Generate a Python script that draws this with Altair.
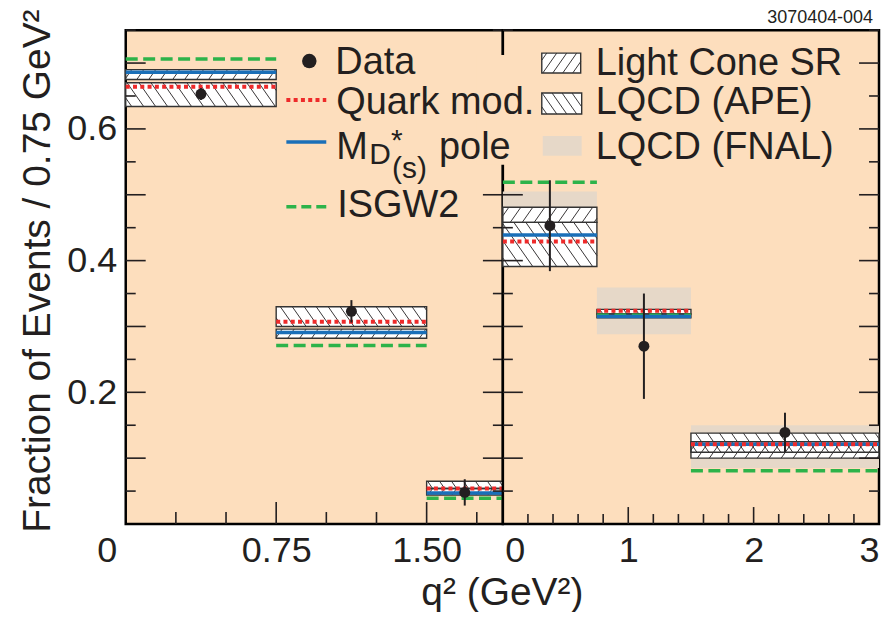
import altair as alt
import pandas as pd

# ---------------- data ----------------
# Left panel: D -> K e nu
k_bin_lo = [0.0, 0.75, 1.50]
k_bin_hi = [0.75, 1.50, 1.88]
k_center = [0.375, 1.125, 1.69]
k_data = [0.653, 0.323, 0.048]
k_err = [0.009, 0.017, 0.020]
k_quark = [0.664, 0.307, 0.054]
k_pole = [0.686, 0.291, 0.047]
k_isgw2 = [0.706, 0.271, 0.039]
k_lc_lo = [0.675, 0.282, 0.044]
k_lc_hi = [0.690, 0.296, 0.054]
k_ape_lo = [0.634, 0.300, 0.054]
k_ape_hi = [0.670, 0.330, 0.065]

# Right panel: D -> pi e nu
pi_bin_lo = [0.0, 0.75, 1.50]
pi_bin_hi = [0.75, 1.50, 3.00]
pi_center = [0.375, 1.125, 2.25]
pi_data = [0.453, 0.270, 0.139]
pi_err = [0.069, 0.080, 0.030]
pi_quark = [0.429, 0.324, 0.121]
pi_pole = [0.439, 0.315, 0.121]
pi_isgw2 = [0.519, 0.317, 0.081]
pi_lc_lo = [0.458, 0.313, 0.100]
pi_lc_hi = [0.481, 0.319, 0.125]
pi_ape_lo = [0.391, 0.319, 0.109]
pi_ape_hi = [0.458, 0.326, 0.138]
pi_fnal_lo = [0.405, 0.288, 0.085]
pi_fnal_hi = [0.505, 0.359, 0.150]

# axis ticks / labels
y_labels = [0.2, 0.4, 0.6]
y_major = [0.1, 0.2, 0.3, 0.4, 0.5, 0.6, 0.7]
y_minor = [0.05, 0.15, 0.25, 0.35, 0.45, 0.55, 0.65, 0.75]
k_x_labels = [0.0, 0.75, 1.50]
k_x_major = [0.75, 1.50]
k_x_minor = [0.25, 0.50, 1.00, 1.25, 1.75]
pi_x_labels = [0, 1, 2, 3]
pi_x_major = [1.0, 2.0]
pi_x_minor = [0.2, 0.4, 0.6, 0.8, 1.2, 1.4, 1.6, 1.8, 2.2, 2.4, 2.6, 2.8]

legend_col1 = ["Data", "Quark mod.", "pole", "ISGW2"]
legend_col2 = ["Light Cone SR", "LQCD (APE)", "LQCD (FNAL)"]
y_title = "Fraction of Events / 0.75 GeV²"
x_title = "q² (GeV²)"
fig_id = "3070404-004"

# ---------------- styles ----------------
PEACH = "#FDDEBD"
FNAL_GRAY = "#E6D8C8"
INK = "#231F20"
RED = "#EE2A2A"
BLUE = "#1A6FB8"
GREEN = "#2DB34A"
FONT = "Liberation Sans"
H = 495
W_L = 378
W_R = 377
Y_MAX = 0.75
KY = H / Y_MAX
LEG_FS = 38
TICK_FS = 36

one = pd.DataFrame({"k": [0]})


def hatch_segments(W, Hh, direction, spacing, slope=0.7):
    segs = []
    if W <= 0 or Hh <= 0:
        return segs
    sH = slope * Hh
    if direction == "back":  # "\\\"
        c = -sH + spacing / 2
        while c < W:
            tmin = max(0.0, -c / sH)
            tmax = min(1.0, (W - c) / sH)
            if tmax > tmin:
                segs.append((c + sH * tmin, tmin, c + sH * tmax, tmax))
            c += spacing
    else:  # "///"
        c = spacing / 2
        while c < W + sH:
            tmin = max(0.0, (c - W) / sH)
            tmax = min(1.0, c / sH)
            if tmax > tmin:
                segs.append((c - sH * tmin, tmin, c - sH * tmax, tmax))
            c += spacing
    return segs


def box_hatch(lo, hi, ylo, yhi, kx, direction):
    rows = []
    for x0, x1, y0, y1 in zip(lo, hi, ylo, yhi):
        for xa, ta, xb, tb in hatch_segments((x1 - x0) * kx, (y1 - y0) * KY, direction, 12):
            rows.append({"xa": x0 + xa / kx, "ya": y1 - ta * (y1 - y0),
                         "xb": x0 + xb / kx, "yb": y1 - tb * (y1 - y0)})
    return pd.DataFrame(rows)


def panel(lo, hi, center, data, err, quark, pole, isgw2, lc_lo, lc_hi,
          ape_lo, ape_hi, xmax, width, xaxis, yaxis, x_major, x_minor,
          major_len, minor_len, fnal=None):
    kx = width / xmax
    xs = alt.Scale(domain=[0, xmax], nice=False, zero=False)
    ys = alt.Scale(domain=[0, Y_MAX], nice=False, zero=True)

    def X(f):
        return alt.X(f, type="quantitative", scale=xs, axis=xaxis)

    def Y(f):
        return alt.Y(f, type="quantitative", scale=ys, axis=yaxis)

    df = pd.DataFrame({
        "lo": lo, "hi": hi, "c": center, "d": data,
        "dlo": [d - e for d, e in zip(data, err)],
        "dhi": [d + e for d, e in zip(data, err)],
        "quark": quark, "pole": pole, "isgw2": isgw2,
        "lc_lo": lc_lo, "lc_hi": lc_hi, "ape_lo": ape_lo, "ape_hi": ape_hi,
    })
    layers = []
    if fnal is not None:
        df["f_lo"], df["f_hi"] = fnal
    base = alt.Chart(df)
    if fnal is not None:
        layers.append(base.mark_rect(color=FNAL_GRAY).encode(
            x=X("lo"), x2="hi", y=Y("f_lo"), y2="f_hi"))
    # white fills
    for a, b in (("lc_lo", "lc_hi"), ("ape_lo", "ape_hi")):
        layers.append(base.mark_rect(color="white").encode(
            x=X("lo"), x2="hi", y=Y(a), y2=b))
    # hatches
    for hd in (box_hatch(lo, hi, lc_lo, lc_hi, kx, "fwd"),
               box_hatch(lo, hi, ape_lo, ape_hi, kx, "back")):
        layers.append(alt.Chart(hd).mark_rule(color=INK, strokeWidth=0.9).encode(
            x=X("xa"), x2="xb", y=Y("ya"), y2="yb"))
    # outlines
    for a, b in (("lc_lo", "lc_hi"), ("ape_lo", "ape_hi")):
        layers.append(base.mark_rect(fillOpacity=0, stroke="#333333", strokeWidth=1.4).encode(
            x=X("lo"), x2="hi", y=Y(a), y2=b))
    # model curves
    layers.append(base.mark_rule(color=GREEN, strokeWidth=3.5, strokeDash=[12, 5.5]).encode(
        x=X("lo"), x2="hi", y=Y("isgw2")))
    layers.append(base.mark_rule(color=BLUE, strokeWidth=3.5).encode(
        x=X("lo"), x2="hi", y=Y("pole")))
    layers.append(base.mark_rule(color=RED, strokeWidth=4, strokeDash=[4, 3.3]).encode(
        x=X("lo"), x2="hi", y=Y("quark")))
    # data
    layers.append(base.mark_rule(color=INK, strokeWidth=2).encode(
        x=X("c"), y=Y("dlo"), y2="dhi"))
    layers.append(base.mark_circle(color=INK, opacity=1, size=120).encode(
        x=X("c"), y=Y("d")))
    # inward ticks
    for vals, ln in ((y_major, 20), (y_minor, 10)):
        t = alt.Chart(pd.DataFrame({"v": vals}))
        layers.append(t.mark_rule(color=INK, strokeWidth=1.6).encode(
            y=Y("v"), x=alt.value(0), x2=alt.value(ln)))
        layers.append(t.mark_rule(color=INK, strokeWidth=1.6).encode(
            y=Y("v"), x=alt.value(width - ln), x2=alt.value(width)))
    for vals, ln in ((x_major, major_len), (x_minor, minor_len)):
        t = alt.Chart(pd.DataFrame({"v": vals}))
        layers.append(t.mark_rule(color=INK, strokeWidth=1.6).encode(
            x=X("v"), y=alt.value(H), y2=alt.value(H - ln)))
    return layers


def txt(s, x, y, size=LEG_FS, align="left"):
    return alt.Chart(one).mark_text(text=s, font=FONT, fontSize=size, color=INK,
                                    align=align, baseline="alphabetic").encode(
        x=alt.value(x), y=alt.value(y))


def seg(x1, y1, x2, y2, **kw):
    return alt.Chart(one).mark_rule(**kw).encode(
        x=alt.value(x1), y=alt.value(y1), x2=alt.value(x2), y2=alt.value(y2))


def legend_box(x0, y0, x1, y1, direction, fill="white", outline=True):
    out = [alt.Chart(one).mark_rect(color=fill).encode(
        x=alt.value(x0), x2=alt.value(x1), y=alt.value(y0), y2=alt.value(y1))]
    if direction:
        for xa, ta, xb, tb in hatch_segments(x1 - x0, y1 - y0, direction, 10):
            out.append(seg(x0 + xa, y0 + ta * (y1 - y0), x0 + xb, y0 + tb * (y1 - y0),
                           color=INK, strokeWidth=0.9))
    if outline:
        out.append(alt.Chart(one).mark_rect(fillOpacity=0, stroke="#333333", strokeWidth=1.4).encode(
            x=alt.value(x0), x2=alt.value(x1), y=alt.value(y0), y2=alt.value(y1)))
    return out


# ---------------- axes ----------------
yaxis_L = alt.Axis(values=y_labels, format=".1f", ticks=False, domain=False, grid=False,
                   labelFontSize=TICK_FS, labelPadding=9, labelFont=FONT, labelColor=INK,
                   title=y_title, titleFontSize=39, titleFontWeight="normal",
                   titleFont=FONT, titleColor=INK, titleX=-76, titleY=241,
                   titleAngle=270, titleAlign="center", titleBaseline="alphabetic")
xaxis_L = alt.Axis(values=k_x_labels, ticks=False, domain=False, grid=False,
                   labelExpr="datum.value == 0 ? '0' : format(datum.value, '.2f')",
                   labelFlush=False, labelOverlap=False, labelFontSize=TICK_FS, labelPadding=10,
                   labelFont=FONT, labelColor=INK,
                   labelOffset={"condition": {"test": "datum.value == 0", "value": -19}, "value": 0},
                   title=x_title, titleFontSize=39, titleFontWeight="normal", titleFont=FONT,
                   titleColor=INK, titleX=377, titleY=81, titleAlign="center",
                   titleBaseline="alphabetic", titleAngle=0)
xaxis_R = alt.Axis(values=pi_x_labels, format="d", ticks=False, domain=False, grid=False,
                   labelFlush=False, labelOverlap=False, labelFontSize=TICK_FS, labelPadding=10,
                   labelFont=FONT, labelColor=INK,
                   labelOffset={"condition": [{"test": "datum.value == 0", "value": 12},
                                              {"test": "datum.value == 3", "value": -10}],
                                "value": 0},
                   title=None)

left_layers = panel(k_bin_lo, k_bin_hi, k_center, k_data, k_err, k_quark, k_pole, k_isgw2,
                    k_lc_lo, k_lc_hi, k_ape_lo, k_ape_hi, 1.88, W_L, xaxis_L, yaxis_L,
                    k_x_major, k_x_minor, 22, 12)
right_layers = panel(pi_bin_lo, pi_bin_hi, pi_center, pi_data, pi_err, pi_quark, pi_pole,
                     pi_isgw2, pi_lc_lo, pi_lc_hi, pi_ape_lo, pi_ape_hi, 3.0, W_R, xaxis_R,
                     None, pi_x_major, pi_x_minor, 17, 10, fnal=(pi_fnal_lo, pi_fnal_hi))

# legend (drawn in right panel, coordinates relative to its plot origin)
leg = []
leg.append(alt.Chart(one).mark_rect(color=PEACH).encode(
    x=alt.value(-26), x2=alt.value(26), y=alt.value(25), y2=alt.value(135)))
leg.append(alt.Chart(one).mark_circle(color=INK, opacity=1, size=210).encode(
    x=alt.value(-194), y=alt.value(31)))
leg.append(txt(legend_col1[0], -168, 44))
leg.append(seg(-217, 70, -177, 70, color=RED, strokeWidth=4, strokeDash=[4, 3.3]))
leg.append(txt(legend_col1[1], -167, 84.5))
leg.append(seg(-217, 112, -177, 112, color=BLUE, strokeWidth=3.5))
leg.append(txt("M", -167, 129))
leg.append(txt("D", -134, 134, size=30))
leg.append(txt("*", -112, 120.5, size=30))
leg.append(txt("(s)", -111, 147.7, size=30))
leg.append(txt(legend_col1[2], -64, 129))
leg.append(seg(-217, 177, -177, 177, color=GREEN, strokeWidth=3.5, strokeDash=[10, 5]))
leg.append(txt(legend_col1[3], -166, 187))
leg += legend_box(39, 23, 78, 43, "fwd")
leg.append(txt(legend_col2[0], 93, 44.7))
leg += legend_box(39, 63, 79, 84, "back")
leg.append(txt(legend_col2[1], 93, 83.7))
leg += legend_box(40, 106, 79, 126, None, fill=FNAL_GRAY, outline=False)
leg.append(txt(legend_col2[2], 93, 128.7))
# figure id above the frame
leg.append(txt(fig_id, W_R - 6, -7, size=18, align="right"))

left = alt.layer(*left_layers).properties(width=W_L, height=H)
right = alt.layer(*right_layers, *leg).properties(width=W_R, height=H)

chart = alt.hconcat(left, right, spacing=0, bounds="flush").properties(
    padding={"left": 9, "top": -1.5, "right": -1, "bottom": -4}
).configure_view(fill=PEACH, stroke="black", strokeWidth=2.5)

chart.save("out.html", embed_options={"renderer": "svg", "actions": False})
